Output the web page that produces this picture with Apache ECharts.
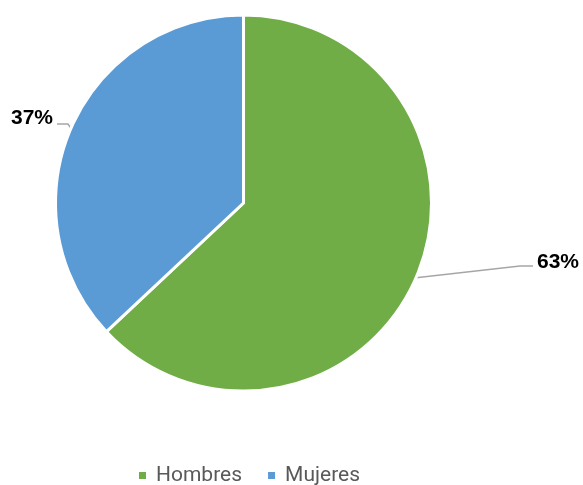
<!DOCTYPE html>
<html>
<head>
<meta charset="utf-8">
<script src="https://cdn.jsdelivr.net/npm/echarts@6/dist/echarts.min.js"></script>
<style>
html,body{margin:0;padding:0;background:#fff;}
#chart{width:583px;height:485px;}
</style>
</head>
<body>
<div id="chart"></div>
<script>
const categories = ['Hombres', 'Mujeres'];
const values = [63, 37];
const colors = ['#70AD47', '#5B9BD5'];

const chart = echarts.init(document.getElementById('chart'));
const data = categories.map((c, i) => ({ name: c, value: values[i], itemStyle: { color: colors[i] } }));

chart.setOption({
  animation: false,
  backgroundColor: '#ffffff',
  legend: {
    data: categories,
    left: 137,
    top: 465,
    padding: 0,
    itemWidth: 9,
    itemHeight: 9,
    itemGap: 24,
    icon: 'rect',
    textStyle: { fontFamily: 'Roboto', fontSize: 21, color: '#595959', padding: [0, 0, 0, 4] }
  },
  series: [{
    type: 'pie',
    center: [243.5, 203],
    radius: [0, 188],
    startAngle: 90,
    clockwise: true,
    data: data,
    itemStyle: { borderColor: '#ffffff', borderWidth: 3 },
    label: {
      show: true,
      formatter: '{d}%',
      fontFamily: 'Liberation Sans, Arial',
      fontWeight: 'bold',
      fontSize: 21,
      color: '#000000',
      overflow: 'none',
      width: 80
    },
    labelLine: {
      show: true,
      length: 10,
      length2: 20,
      lineStyle: { color: '#A6A6A6', width: 1.5 }
    },
    labelLayout: function (p) {
      const s = p.labelLinePoints ? p.labelLinePoints[0] : [0, 0];
      if (p.dataIndex === 0) {
        return {
          x: 537, y: 262, align: 'left', verticalAlign: 'middle',
          labelLinePoints: [[s[0], s[1]], [520, 266], [533, 266]]
        };
      } else {
        return {
          x: 53, y: 118, align: 'right', verticalAlign: 'middle',
          labelLinePoints: [[s[0], s[1]], [68, 124], [57, 124]]
        };
      }
    }
  }]
});
</script>
</body>
</html>
